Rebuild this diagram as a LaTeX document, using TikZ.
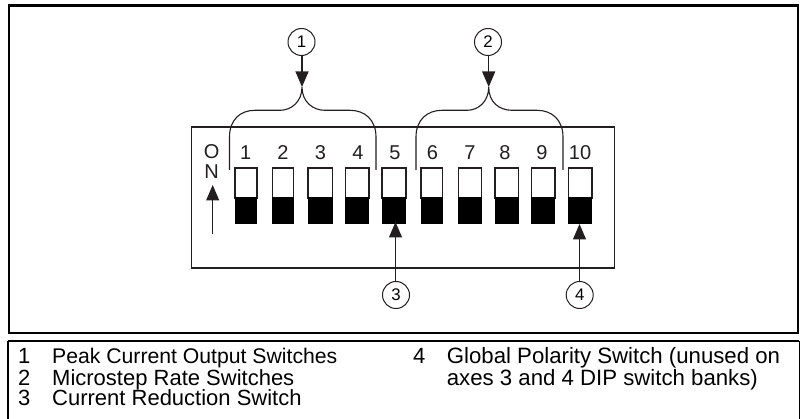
\documentclass[tikz,border=0pt]{standalone}
\usepackage{fontspec}
\setmainfont{Liberation Sans}
\usetikzlibrary{arrows.meta}
\definecolor{ink}{HTML}{231F20}
\tikzset{
  x=1pt,y=-1pt,
  frame/.style={draw=black,line width=2.2pt},
  panel/.style={draw=ink,line width=1.3pt},
  callout/.style={circle,draw=ink,line width=1pt,fill=white,minimum size=27pt,inner sep=0pt,font=\fontsize{16.8}{16.8}\selectfont},
  pointer/.style={draw=ink,line width=1.1pt,-{Triangle[length=15.5pt,width=13pt,fill=ink]}},
  brace/.style={draw=ink,line width=1.1pt},
  numlabel/.style={inner sep=0pt,text=ink,font=\fontsize{20}{20}\selectfont},
  legendtext/.style={anchor=base west,inner sep=0pt,font=\fontsize{22}{22}\selectfont},
  legendwide/.style={anchor=base west,inner sep=0pt,font=\fontsize{22.2}{22}\selectfont},
  legendpeak/.style={anchor=base west,inner sep=0pt,font=\fontsize{21.2}{22}\selectfont},
  swupper/.style={draw=ink,line width=1.1pt,fill=white},
  swlower/.style={fill=black},
}
\begin{document}
\begin{tikzpicture}
\useasboundingbox (0,0) rectangle (800,419);
\path[fill=white] (0,0) rectangle (800,419);
% frames
\draw[frame] (8.7,5.5) rectangle (798,333);
\draw[frame] (8,341) -- (799.4,341);
\draw[frame] (8,341) -- (8,419);
\draw[draw=black,line width=1.2pt] (799.2,341) -- (799.2,419);
% panel
\draw[panel] (191.7,127) rectangle (614.7,268);
% switches
\foreach \a/\b [count=\i] in {235/257,272.3/293.7,308/332.3,345.7/369,382/406,421/442.7,458.3/481.7,495/518.3,531.7/555,568.3/592}{
  \draw[swupper] (\a,168) rectangle (\b,198);
  \fill[swlower] (\a-.4,197) rectangle (\b+.4,224);
}
% switch numbers
\foreach \x/\t in {245.7/1,283/2,320.5/3,358/4,395/5,432.5/6,470/7,505/8,542/9,580/10}{
  \node[numlabel,anchor=base] (n\t) at (\x,160) {\t};
}
% ON
\node[numlabel,anchor=base] (on) at (211.7,159) {O};
\node[numlabel,anchor=base] (nn) at (211.7,178.5) {N};
\coordinate (ontail) at (212.7,234);
\coordinate (ontip) at (212.7,185);
\draw[pointer] (ontail) -- (ontip);
% callouts
\node[callout] (c1) at (301.5,42) {1};
\node[callout] (c2) at (488,42) {2};
\node[callout] (c3) at (396,295) {3};
\node[callout] (c4) at (579.7,295) {4};
\coordinate (t1) at (302,87);
\coordinate (t2) at (488.7,87);
\coordinate (t3) at (395.5,222);
\coordinate (t4) at (579.5,224);
\draw[pointer] (c1.south -| t1) -- (t1);
\draw[pointer] (c2.south -| t2) -- (t2);
\draw[pointer] (c3.north -| t3) -- (t3);
\draw[pointer] (c4.north -| t4) -- (t4);
% braces
\draw[brace] (229.5,170) -- (229.5,137) .. controls (229.5,120) and (240,110.3) .. (255,110.3) -- (280,110.3) .. controls (291,110.3) and (302,102) .. (t1)
  .. controls (302,102) and (313,110.3) .. (325,110.3) -- (350,110.3) .. controls (365,110.3) and (376,120) .. (376,137) -- (376,170);
\draw[brace] (416,170) -- (416,137) .. controls (416,120) and (427,110.3) .. (442,110.3) -- (467,110.3) .. controls (478,110.3) and (488.7,102) .. (t2)
  .. controls (488.7,102) and (499,110.3) .. (512,110.3) -- (537,110.3) .. controls (552,110.3) and (563,120) .. (563,137) -- (563,170);
% legend
\node[legendtext] (k1) at (18,363) {1};
\node[legendpeak] (l1) at (52,363) {Peak Current Output Switches};
\node[legendtext] (k2) at (18,385) {2};
\node[legendtext] (l2) at (52,385) {Microstep Rate Switches};
\node[legendtext] (k3) at (18,405.6) {3};
\node[legendtext] (l3) at (52,405.6) {Current Reduction Switch};
\node[legendtext] (k4) at (413,363) {4};
\node[legendwide] (l4) at (446.7,363) {Global Polarity Switch (unused on};
\node[legendwide] (l5) at (446.7,385) {axes 3 and 4 DIP switch banks)};
\end{tikzpicture}
\end{document}
